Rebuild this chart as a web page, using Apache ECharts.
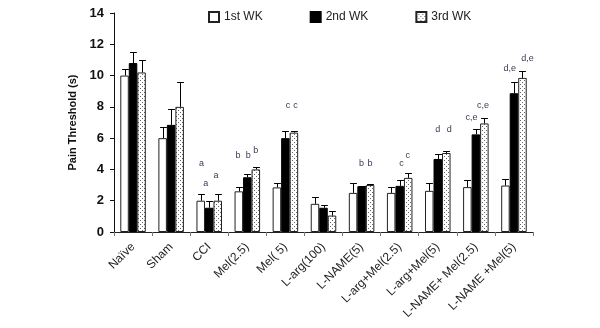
<!DOCTYPE html>
<html><head><meta charset="utf-8">
<script src="https://cdn.jsdelivr.net/npm/echarts@6/dist/echarts.min.js"></script>
<style>html,body{margin:0;padding:0;background:#fff}#c{width:600px;height:328px}</style>
</head><body><div id="c"></div>
<script>
var categories = ['Naïve','Sham','CCI','Mel(2.5)','Mel( 5)','L-arg(100)','L-NAME(5)','L-arg+Mel(2.5)','L-arg+Mel(5)','L-NAME+ Mel(2.5)','L-NAME +Mel(5)'];
var week1 = [10.0, 6.0, 2.0, 2.6, 2.85, 1.8, 2.5, 2.5, 2.63, 2.87, 2.97];
var week1Err = [10.4, 6.7, 2.45, 2.85, 3.15, 2.25, 3.14, 2.87, 3.14, 3.33, 3.4];
var week2 = [10.8, 6.85, 1.55, 3.5, 6.0, 1.55, 2.93, 2.95, 4.67, 6.24, 8.87];
var week2Err = [11.5, 7.85, 2.0, 3.7, 6.45, 1.7, 2.95, 3.33, 5.0, 6.58, 9.57];
var week3 = [10.2, 8.0, 2.0, 4.0, 6.35, 1.05, 3.0, 3.46, 5.05, 6.94, 9.85];
var week3Err = [11.0, 9.6, 2.45, 4.15, 6.45, 1.35, 3.1, 3.78, 5.16, 7.3, 10.3];
var yTicks = [0, 2, 4, 6, 8, 10, 12, 14];
// annotations: [category index, offset in bar widths from group centre, y value, text]
var annotations = [
  [2, -0.9, 4.1, 'a'], [2, -0.4, 2.8, 'a'], [2, 0.8, 3.3, 'a'],
  [3, -1.1, 4.6, 'b'], [3, 0.1, 4.6, 'b'], [3, 1.0, 4.9, 'b'],
  [4, 0.3, 7.8, 'c'], [4, 1.2, 7.8, 'c'],
  [6, 0.0, 4.1, 'b'], [6, 1.0, 4.1, 'b'],
  [7, 0.2, 4.1, 'c'], [7, 0.95, 4.6, 'c'],
  [8, 0.0, 6.26, 'd'], [8, 1.35, 6.26, 'd'],
  [9, -0.5, 7.0, 'c,e'], [9, 0.85, 7.77, 'c,e'],
  [10, -0.5, 10.15, 'd,e'], [10, 1.6, 10.8, 'd,e']
];
var seriesNames = ['1st WK', '2nd WK', '3rd WK'];

var pc = document.createElement('canvas');
pc.width = 4; pc.height = 4;
var g = pc.getContext('2d');
g.fillStyle = '#ffffff'; g.fillRect(0,0,4,4);
g.fillStyle = '#666666'; g.fillRect(0,0,1,1); g.fillRect(2,2,1,1);
var dotted = {image: pc, repeat: 'repeat'};

var GAP = 0.33;
function bw(api){ return api.size([1,0])[0]*(1-GAP)/3; }
function errSeries(idx, means, tops){
  var data = means.map(function(m,i){ return [i, m, tops[i]]; });
  return {
    type: 'custom', silent: true, z: 5, data: data,
    encode: {x: 0, y: [1,2]},
    renderItem: function(params, api){
      var w = bw(api);
      var c = api.coord([api.value(0), api.value(1)]);
      var t = api.coord([api.value(0), api.value(2)]);
      var cx = Math.round(c[0] + (idx-1)*w) + 0.5;
      var ty = Math.round(t[1]) + 0.5;
      var st = {stroke: '#000', lineWidth: 1};
      return {type:'group', children:[
        {type:'line', shape:{x1:cx, y1:c[1], x2:cx, y2:ty}, style: st},
        {type:'line', shape:{x1:cx-w*0.4, y1:ty, x2:cx+w*0.4, y2:ty}, style: st}
      ]};
    }
  };
}
var annSeries = {
  type: 'custom', silent: true, z: 6,
  data: annotations.map(function(a){ return [a[0], a[2]]; }),
  encode: {x: 0, y: 1},
  renderItem: function(params, api){
    var a = annotations[params.dataIndex];
    var w = bw(api);
    var p = api.coord([a[0], a[2]]);
    return {type:'text', style:{x: p[0] + a[1]*w, y: p[1], text: a[3], fill: '#3a3a55',
      font: '9px "Liberation Sans", Arial, sans-serif', align: 'center', verticalAlign: 'bottom'}};
  }
};

var chart = echarts.init(document.getElementById('c'));
chart.setOption({
  animation: false,
  backgroundColor: '#fff',
  grid: {left: 114, right: 67, top: 13, bottom: 96},
  legend: {
    data: seriesNames, left: 203, top: 6, itemWidth: 10, itemHeight: 10, itemGap: 47,
    icon: 'rect',
    textStyle: {fontFamily: '"Liberation Sans", Arial, sans-serif', fontSize: 12, color: '#222'}
  },
  xAxis: {
    type: 'category', data: categories,
    axisLine: {lineStyle: {color: '#222', width: 1}},
    axisTick: {show: true, length: 4, lineStyle: {color: '#777'}},
    axisLabel: {rotate: 45, interval: 0, fontSize: 12, color: '#222', margin: 13,
      fontFamily: '"Liberation Sans", Arial, sans-serif'}
  },
  yAxis: {
    type: 'value', min: 0, max: 14, interval: 2,
    name: 'Pain Threshold (s)', nameLocation: 'middle', nameGap: 30,
    nameTextStyle: {fontWeight: 'bold', fontSize: 11, color: '#111', fontFamily: '"Liberation Sans", Arial, sans-serif'},
    axisLine: {show: true, lineStyle: {color: '#111', width: 1}},
    axisTick: {show: true, length: 4, lineStyle: {color: '#111'}},
    splitLine: {show: false},
    axisLabel: {fontWeight: 'bold', fontSize: 13, color: '#111', margin: 10,
      fontFamily: '"Liberation Sans", Arial, sans-serif',
      formatter: function(v){ return yTicks.indexOf(v) >= 0 ? String(v) : ''; }}
  },
  series: [
    {name: seriesNames[0], type: 'bar', data: week1, barGap: '0%', barCategoryGap: '33%',
      itemStyle: {color: '#fff', borderColor: '#222', borderWidth: 1}},
    {name: seriesNames[1], type: 'bar', data: week2, barGap: '0%', barCategoryGap: '33%',
      itemStyle: {color: '#000', borderColor: '#000', borderWidth: 1}},
    {name: seriesNames[2], type: 'bar', data: week3, barGap: '0%', barCategoryGap: '33%',
      itemStyle: {color: dotted, borderColor: '#222', borderWidth: 1}},
    errSeries(0, week1, week1Err),
    errSeries(1, week2, week2Err),
    errSeries(2, week3, week3Err),
    annSeries
  ]
});
</script></body></html>
